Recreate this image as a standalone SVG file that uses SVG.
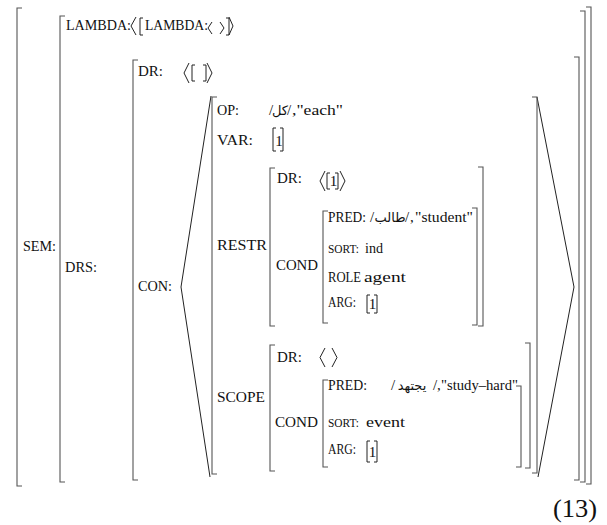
<svg xmlns="http://www.w3.org/2000/svg" width="607" height="525" viewBox="0 0 607 525">
<style>
.t{font-family:"Liberation Serif","Times New Roman","DejaVu Serif",serif;font-size:15px;fill:#111}
.k{font-size:13.5px}
.a{font-family:"Liberation Serif","DejaVu Sans",serif;font-size:13px;fill:#111}
.b{fill:none;stroke:#555;stroke-width:1.1}
.s{fill:none;stroke:#222;stroke-width:1}
.n{fill:none;stroke:#222;stroke-width:1}
</style>
<rect width="607" height="525" fill="#fff"/>

<g id="sem">
  <path class="b" d="M22 8 H17 V486 H22"/>
  <path class="b" d="M586 7 H591 V484 H586"/>
  <text class="t" x="23" y="251" textLength="33" lengthAdjust="spacingAndGlyphs">SEM:</text>
</g>

<g id="lambda">
  <path class="b" d="M65 16 H60 V482 H65"/>
  <path class="b" d="M580 11 H585 V482 H580"/>
  <text class="t" x="66" y="30" textLength="65" lengthAdjust="spacingAndGlyphs">LAMBDA:</text>
  <path class="n" d="M136 17 L131 26 L136 35"/>
  <path class="n" d="M143 18 H140 V35 H143"/>
  <text class="t" x="145" y="30" textLength="63" lengthAdjust="spacingAndGlyphs">LAMBDA:</text>
  <path class="n" d="M212 22 L208 28 L212 34"/>
  <path class="n" d="M220 22 L224 28 L220 34"/>
  <path class="n" d="M226 18 H229 V35 H226"/>
  <path class="n" d="M229 17 L233 26 L229 35"/>
  <text class="t" x="65" y="272" textLength="32" lengthAdjust="spacingAndGlyphs">DRS:</text>
</g>

<g id="drs">
  <path class="b" d="M138 60 H133 V480 H138"/>
  <path class="b" d="M574 57 H579 V480 H574"/>
  <text class="t" x="138" y="76" textLength="25" lengthAdjust="spacingAndGlyphs">DR:</text>
  <path class="n" d="M189 63 L184 73 L189 83"/>
  <path class="n" d="M195 65 H192 V81 H195"/>
  <path class="n" d="M203 65 H206 V81 H203"/>
  <path class="n" d="M207 63 L212 73 L207 83"/>
  <text class="t" x="138" y="291" textLength="34" lengthAdjust="spacingAndGlyphs">CON:</text>
  <path class="s" d="M211 96 L181 287 L210 477"/>
  <path class="s" d="M537 97 L574 287 L538 477"/>
</g>

<g id="quant">
  <path class="b" d="M217 97 H212 V474 H217"/>
  <path class="b" d="M532 97 H537 V473 H532"/>
  <text class="t" x="217" y="115" textLength="22" lengthAdjust="spacingAndGlyphs">OP:</text>
  <text class="t" x="269" y="115">/</text>
  <text class="a" x="280" y="115" text-anchor="middle">كل</text>
  <text class="t" x="287" y="115">/</text>
  <text class="t" x="292" y="115" textLength="51" lengthAdjust="spacingAndGlyphs">,"each"</text>
  <text class="t" x="217" y="145" textLength="36" lengthAdjust="spacingAndGlyphs">VAR:</text>
  <path class="n" d="M276 128 H273 V151 H276"/>
  <text class="t" x="275.3" y="146">1</text>
  <path class="n" d="M280 128 H283 V151 H280"/>
  <text class="t" x="217" y="250" textLength="50" lengthAdjust="spacingAndGlyphs">RESTR</text>
  <text class="t" x="217" y="402" textLength="48" lengthAdjust="spacingAndGlyphs">SCOPE</text>
</g>

<g id="restr">
  <path class="b" d="M275 168 H270 V326 H275"/>
  <path class="b" d="M478 167 H483 V326 H478"/>
  <text class="t" x="277" y="183" textLength="25" lengthAdjust="spacingAndGlyphs">DR:</text>
  <path class="n" d="M325 171 L320 181 L325 191"/>
  <path class="n" d="M330 173 H327 V189 H330"/>
  <text class="t" x="329.8" y="186">1</text>
  <path class="n" d="M335 173 H338 V189 H335"/>
  <path class="n" d="M340 171 L345 181 L340 191"/>
  <text class="t" x="276" y="270" textLength="42" lengthAdjust="spacingAndGlyphs">COND</text>
</g>

<g id="restr-cond">
  <path class="b" d="M328 211 H323 V323 H328"/>
  <path class="b" d="M472 208 H477 V325 H472"/>
  <text class="t" x="328" y="222" textLength="38" lengthAdjust="spacingAndGlyphs">PRED:</text>
  <text class="t" x="370" y="222">/</text>
  <text class="a" x="390" y="222" text-anchor="middle">طالب</text>
  <text class="t" x="405" y="222">/</text>
  <text class="t" x="410" y="222">,</text>
  <text class="t" x="415" y="222" textLength="58" lengthAdjust="spacingAndGlyphs">"student"</text>
  <text class="t k" x="328" y="253" textLength="31" lengthAdjust="spacingAndGlyphs">SORT:</text>
  <text class="t" x="365" y="253" textLength="18" lengthAdjust="spacingAndGlyphs">ind</text>
  <text class="t" x="328" y="282" textLength="33" lengthAdjust="spacingAndGlyphs">ROLE</text>
  <text class="t" x="364" y="282" textLength="42" lengthAdjust="spacingAndGlyphs">agent</text>
  <text class="t" x="328" y="307" textLength="28" lengthAdjust="spacingAndGlyphs">ARG:</text>
  <path class="n" d="M370 295 H367 V313 H370"/>
  <text class="t" x="368.8" y="309">1</text>
  <path class="n" d="M374 295 H377 V313 H374"/>
</g>

<g id="scope">
  <path class="b" d="M275 345 H270 V471 H275"/>
  <path class="b" d="M525 343 H530 V468 H525"/>
  <text class="t" x="277" y="362" textLength="25" lengthAdjust="spacingAndGlyphs">DR:</text>
  <path class="n" d="M325 348 L320 357.5 L325 367"/>
  <path class="n" d="M332 348 L337 357.5 L332 367"/>
  <text class="t" x="275" y="427" textLength="43" lengthAdjust="spacingAndGlyphs">COND</text>
</g>

<g id="scope-cond">
  <path class="b" d="M328 380 H323 V467 H328"/>
  <path class="b" d="M516 386 H521 V467 H516"/>
  <text class="t" x="328" y="390" textLength="39" lengthAdjust="spacingAndGlyphs">PRED:</text>
  <text class="t" x="391" y="390">/</text>
  <text class="a" x="412" y="390" text-anchor="middle">يجتهد</text>
  <text class="t" x="433" y="390">/</text>
  <text class="t" x="437" y="390">,</text>
  <text class="t" x="441" y="390" textLength="77" lengthAdjust="spacingAndGlyphs">"study–hard"</text>
  <text class="t k" x="328" y="427" textLength="31" lengthAdjust="spacingAndGlyphs">SORT:</text>
  <text class="t" x="366" y="427" textLength="39" lengthAdjust="spacingAndGlyphs">event</text>
  <text class="t" x="328" y="454" textLength="28" lengthAdjust="spacingAndGlyphs">ARG:</text>
  <path class="n" d="M370 441 H367 V462 H370"/>
  <text class="t" x="368.8" y="457">1</text>
  <path class="n" d="M374 441 H377 V462 H374"/>
</g>

<g id="connectors"></g>

<text class="t" x="553" y="517" style="font-size:25px" textLength="44" lengthAdjust="spacingAndGlyphs">(13)</text>
</svg>
